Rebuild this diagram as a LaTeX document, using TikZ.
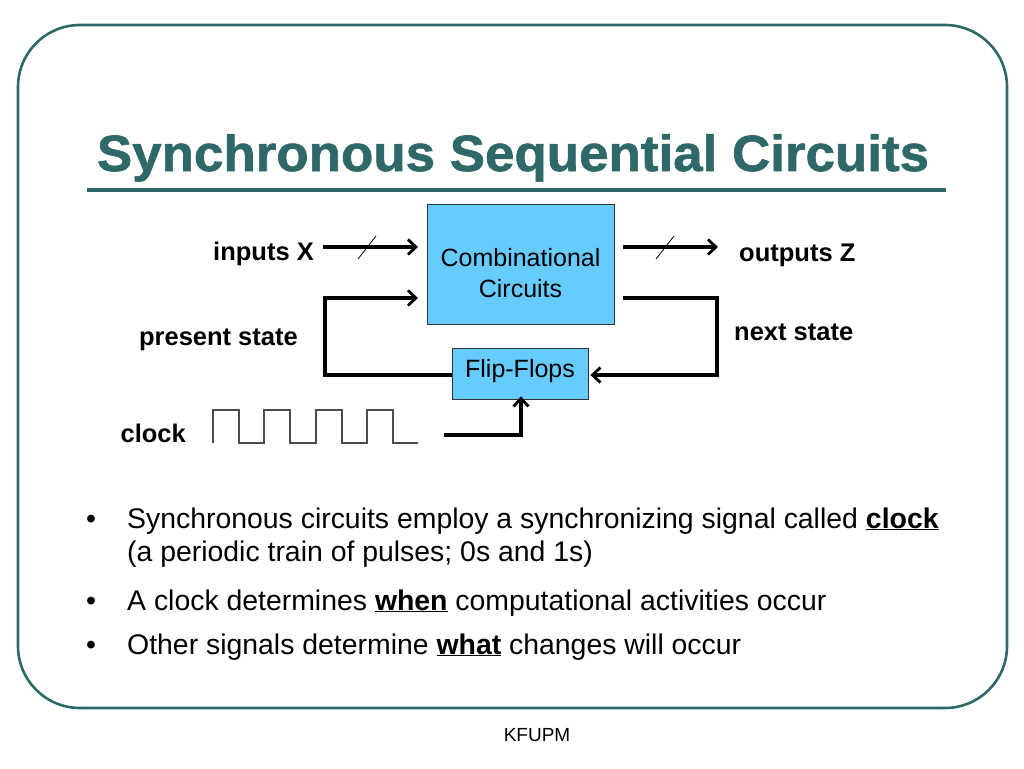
\documentclass[tikz,border=0pt]{standalone}
\usepackage{fontspec}
\setmainfont{Liberation Sans}
\newfontfamily\titlefont[FakeBold=1.2]{Liberation Sans Bold}
\usetikzlibrary{arrows.meta}
\definecolor{teal1}{RGB}{47,104,104}
\definecolor{boxblue}{RGB}{102,204,255}
\newcommand{\ul}[1]{\underline{\textbf{#1}}}
\begin{document}
\begin{tikzpicture}[x=1pt,y=-1pt,
  lbl/.style={font=\fontsize{25.5}{30}\selectfont\bfseries, inner sep=0pt},
  blk/.style={draw=black!80, line width=0.8pt, fill=boxblue, inner sep=0pt},
  btxt/.style={inner sep=0pt, font=\fontsize{25}{31}\selectfont, align=center},
  wire/.style={line width=3.2pt, -{Straight Barb[length=8pt,width=15pt,line width=2.8pt]}},
  plain/.style={line width=3.2pt},
  slash/.style={line width=0.8pt},
  bul/.style={anchor=base west, inner sep=0pt, font=\fontsize{28.4}{32}\selectfont}]
\useasboundingbox (0,0) rectangle (1024,768);
\fill[white] (0,0) rectangle (1024,768);
% frame
\draw[teal1, line width=2.6pt, rounded corners=62pt] (18,25) rectangle (1007,708);
% title
\node[anchor=base, inner sep=0pt, text=teal1, font=\titlefont\fontsize{49}{56}\selectfont] (title) at (513,171) {\scalebox{1.08}[1.04]{Synchronous Sequential Circuits}};
\draw[teal1, line width=4pt] (87,190) -- (946,190);
% blocks
\node[blk, minimum width=187pt, minimum height=120pt] (cc) at (520.5,264) {};
\node[btxt] (cctext) at (520.5,273) {Combinational\\Circuits};
\node[blk, minimum width=136pt, minimum height=51pt] (ff) at (520,373.5) {};
\node[btxt] (fftext) at (520,371) {Flip-Flops};
% labels
\node[lbl, anchor=east] (inx) at (314,254) {inputs X};
\node[lbl, anchor=west] (outz) at (739,255) {outputs Z};
\node[lbl, anchor=east] (ps) at (298,340) {present state};
\node[lbl, anchor=west] (ns) at (734,332) {next state};
\node[lbl, anchor=east] (clk) at (186,433) {clock};
% coordinates
\coordinate (i0) at (323,247);
\coordinate (i1) at (418,247);
\coordinate (o0) at (623,247);
\coordinate (o1) at (718,247);
\coordinate (n0) at (623,298);
\coordinate (n1) at (717,298);
\coordinate (n2) at (717,375);
\coordinate (p0) at (325,375);
\coordinate (p1) at (325,298);
\coordinate (p2) at (418,298);
\coordinate (c0) at (444,435);
\coordinate (c1) at (521,435);
% wires
\draw[wire] (i0) -- (i1);
\draw[slash] (358,259) -- (376,236);
\draw[wire] (o0) -- (o1);
\draw[slash] (656,259) -- (674,236);
\draw[wire, line join=miter] (n0) -- (n1) -- (n2) -- ([xshift=2pt]ff.east |- n2);
\draw[plain, line join=miter] (ff.west |- p0) -- (p0) -- (p1) -- ([xshift=-8pt]p2);
\draw[wire] ([xshift=-20pt]p2) -- (p2);
\draw[wire, line join=miter] (c0) -- (c1) -- ([yshift=3pt]ff.south -| c1);
% clock waveform
\draw[black!70, line width=1.3pt] (213,443) -- (213,410) -- (239,410) -- (239,443) -- (264,443) -- (264,410) -- (290,410) -- (290,443) -- (316,443) -- (316,410) -- (342,410) -- (342,443) -- (367,443) -- (367,410) -- (393,410) -- (393,443) -- (418,443);
% bullets
\node[bul] (b1d) at (86,528) {•};
\node[bul] (b1) at (127,528) {Synchronous circuits employ a synchronizing signal called \ul{clock}};
\node[bul] (b1b) at (127,561) {(a periodic train of pulses; 0s and 1s)};
\node[bul] (b2d) at (86,610) {•};
\node[bul] (b2) at (127,610) {A clock determines \ul{when} computational activities occur};
\node[bul] (b3d) at (86,654) {•};
\node[bul] (b3) at (127,654) {Other signals determine \ul{what} changes will occur};
% footer
\node[inner sep=0pt, font=\fontsize{19}{22}\selectfont] (foot) at (537,735) {KFUPM};
\end{tikzpicture}
\end{document}
